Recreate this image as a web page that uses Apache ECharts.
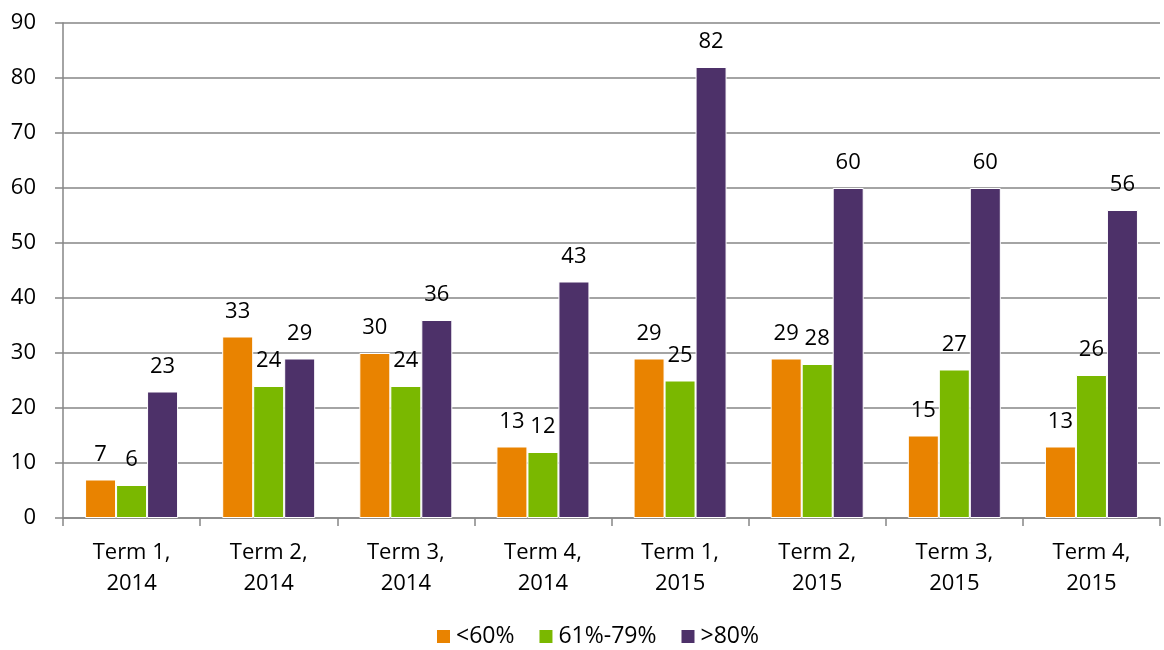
<!DOCTYPE html>
<html>
<head>
<meta charset="utf-8">
<script src="https://cdn.jsdelivr.net/npm/echarts@6/dist/echarts.min.js"></script>
<style>
html, body { margin: 0; padding: 0; background: #fff; }
#grafico { width: 1164px; height: 650px; }
</style>
</head>
<body>
<div id="grafico"></div>
<script>
var categories = ['Term 1,\n2014', 'Term 2,\n2014', 'Term 3,\n2014', 'Term 4,\n2014',
                  'Term 1,\n2015', 'Term 2,\n2015', 'Term 3,\n2015', 'Term 4,\n2015'];
var seriesNames = ['<60%', '61%-79%', '>80%'];
var below60 = [7, 33, 30, 13, 29, 29, 15, 13];
var mid61to79 = [6, 24, 24, 12, 25, 28, 27, 26];
var above80 = [23, 29, 36, 43, 82, 60, 60, 56];
var colors = ['#e98300', '#7ab800', '#4d3169'];

var font = '"Open Sans", "DejaVu Sans", sans-serif';
var dom = document.getElementById("grafico");
var myChart = echarts.init(dom);

function bar(name, data, color) {
    return {
        name: name,
        type: 'bar',
        data: data,
        barWidth: 31,
        barGap: '0%',
        itemStyle: { color: color, borderColor: '#ffffff', borderWidth: 1 },
        label: {
            show: true,
            position: 'top',
            distance: 14,
            color: '#000',
            fontSize: 22,
            fontFamily: font
        }
    };
}

var option = {
    backgroundColor: '#fff',
    animation: false,
    color: colors,
    grid: { left: 63, right: 4, top: 23, bottom: 132 },
    legend: {
        top: 625,
        left: 435,
        padding: 0,
        itemWidth: 15,
        itemHeight: 15,
        itemGap: 23,
        icon: 'rect',
        textStyle: { fontSize: 23, fontFamily: font, color: '#000' },
        data: seriesNames
    },
    xAxis: {
        type: 'category',
        data: categories,
        axisLine: { lineStyle: { color: '#868686', width: 1.5 } },
        axisTick: { show: true, length: 8, interval: 0, lineStyle: { color: '#868686', width: 1.5 } },
        axisLabel: { fontSize: 22, fontFamily: font, color: '#000', lineHeight: 31, margin: 19, interval: 0 }
    },
    yAxis: {
        type: 'value',
        min: 0,
        max: 90,
        interval: 10,
        axisLine: { show: true, lineStyle: { color: '#868686', width: 1.5 } },
        axisTick: { show: true, length: 8, lineStyle: { color: '#868686', width: 1.5 } },
        splitLine: { lineStyle: { color: '#868686', width: 1.5 } },
        axisLabel: { fontSize: 22, fontFamily: font, color: '#000', margin: 27 }
    },
    series: [
        bar(seriesNames[0], below60, colors[0]),
        bar(seriesNames[1], mid61to79, colors[1]),
        bar(seriesNames[2], above80, colors[2])
    ]
};
myChart.setOption(option, true);
</script>
</body>
</html>
